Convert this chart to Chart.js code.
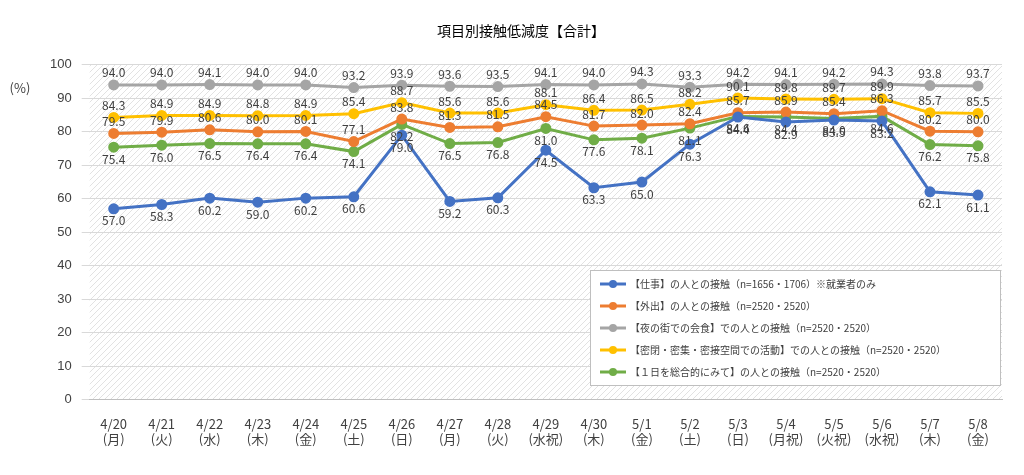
<!DOCTYPE html>
<html><head><meta charset="utf-8">
<script src="https://cdn.jsdelivr.net/npm/chart.js@4/dist/chart.umd.min.js"></script>
<style>
html,body{margin:0;padding:0;background:#fff}
#wrap{width:1024px;height:475px;position:relative}
</style></head>
<body><div id="wrap"><canvas id="canvas"></canvas></div>
<script>
var dates = ['4/20','4/21','4/22','4/23','4/24','4/25','4/26','4/27','4/28','4/29','4/30','5/1','5/2','5/3','5/4','5/5','5/6','5/7','5/8']
var days = ['(月)','(火)','(水)','(木)','(金)','(土)','(日)','(月)','(火)','(水祝)','(木)','(金)','(土)','(日)','(月祝)','(火祝)','(水祝)','(木)','(金)']
var yTicks = [0,10,20,30,40,50,60,70,80,90,100]

var shigoto = [57.0,58.3,60.2,59.0,60.2,60.6,79.0,59.2,60.3,74.5,63.3,65.0,76.3,84.4,82.9,83.5,83.2,62.1,61.1]
var gaishutsu = [79.5,79.9,80.6,80.0,80.1,77.1,83.8,81.3,81.5,84.5,81.7,82.0,82.4,85.7,85.9,85.4,86.3,80.2,80.0]
var yorunomachi = [94.0,94.0,94.1,94.0,94.0,93.2,93.9,93.6,93.5,94.1,94.0,94.3,93.3,94.2,94.1,94.2,94.3,93.8,93.7]
var mippei = [84.3,84.9,84.9,84.8,84.9,85.4,88.7,85.6,85.6,88.1,86.4,86.5,88.2,90.1,89.8,89.7,89.9,85.7,85.5]
var ichinichi = [75.4,76.0,76.5,76.4,76.4,74.1,82.2,76.5,76.8,81.0,77.6,78.1,81.1,84.6,84.4,84.0,84.6,76.2,75.8]

var names = ['【仕事】の人との接触（n=1656・1706）※就業者のみ','【外出】の人との接触（n=2520・2520）','【夜の街での会食】での人との接触（n=2520・2520）','【密閉・密集・密接空間での活動】での人との接触（n=2520・2520）','【１日を総合的にみて】の人との接触（n=2520・2520）']
var colors = ['#4472C4','#ED7D31','#A5A5A5','#FFC000','#70AD47']
var series = [shigoto,gaishutsu,yorunomachi,mippei,ichinichi]
var labelPos = [1,-1,-1,-1,1] // 1 below, -1 above

function hatch(){
    var c = document.createElement('canvas'); c.width=6; c.height=6
    var g = c.getContext('2d')
    g.fillStyle='#fff'; g.fillRect(0,0,6,6)
    g.strokeStyle='#e2e2e2'; g.lineWidth=1
    g.beginPath(); g.moveTo(0,6); g.lineTo(6,0); g.stroke()
    return document.getElementById('canvas').getContext('2d').createPattern(c,'repeat')
}

var extras = {
    id:'extras',
    beforeDraw:function(chart){
        var a = chart.chartArea, ctx = chart.ctx
        ctx.save(); ctx.fillStyle = hatch(); ctx.fillRect(a.left,a.top,a.right-a.left,a.bottom-a.top); ctx.restore()
    },
    afterDatasetsDraw:function(chart){
        var ctx = chart.ctx
        ctx.save()
        ctx.font = '12px "Noto Sans CJK JP", sans-serif'
        ctx.fillStyle = '#404040'; ctx.textAlign='center'; ctx.textBaseline='middle'
        chart.data.datasets.forEach(function(ds,i){
            chart.getDatasetMeta(i).data.forEach(function(p,j){
                ctx.fillText(ds.data[j].toFixed(1), p.x, p.y + labelPos[i]*12)
            })
        })
        ctx.font = '13px "Noto Sans CJK JP", sans-serif'
        ctx.fillText('(%)', 20, 88)
        // legend box
        var lx=590, ly=270, lw=410, lh=115
        ctx.fillStyle='#fff'; ctx.fillRect(lx,ly,lw,lh)
        ctx.strokeStyle='#bfbfbf'; ctx.lineWidth=1; ctx.strokeRect(lx+0.5,ly+0.5,lw,lh)
        ctx.textAlign='left'; ctx.font='10px "Noto Sans CJK JP", sans-serif'
        names.forEach(function(n,i){
            var y = ly+14+i*22
            ctx.strokeStyle=colors[i]; ctx.lineWidth=3
            ctx.beginPath(); ctx.moveTo(lx+10,y); ctx.lineTo(lx+36,y); ctx.stroke()
            ctx.fillStyle=colors[i]; ctx.beginPath(); ctx.arc(lx+23,y,4,0,Math.PI*2); ctx.fill()
            ctx.fillStyle='#404040'; ctx.fillText(n, lx+40, y)
        })
        ctx.restore()
    }
}

var ctx = document.getElementById('canvas').getContext('2d')
var config = {
    type:'line',
    data:{
        labels: dates.map(function(d,i){ return [d, days[i]] }),
        datasets: series.map(function(s,i){
            return {label:names[i], data:s, borderColor:colors[i], backgroundColor:colors[i],
                borderWidth:3, pointRadius:4, pointHoverRadius:4, fill:false, order:i==0?-1:0}
        })
    },
    options:{
        responsive:false, animation:false,
        layout:{padding:{left:40,right:22,top:0,bottom:20}},
        plugins:{
            legend:{display:false}, tooltip:{enabled:false},
            title:{display:true, text:'項目別接触低減度【合計】', color:'#000', padding:{top:22,bottom:26},
                font:{size:14, family:'"Noto Sans CJK JP", sans-serif', weight:'normal'}}
        },
        scales:{
            x:{offset:true, grid:{display:false}, border:{color:'#bfbfbf'},
                ticks:{color:'#404040', padding:8, font:{size:13, family:'"Noto Sans CJK JP", sans-serif'}, maxRotation:0, autoSkip:false}},
            y:{min:0, max:100, afterBuildTicks:function(ax){ ax.ticks = yTicks.map(function(v){return {value:v}}) },
                grid:{color:'#d9d9d9'}, border:{display:false},
                ticks:{color:'#404040', font:{size:13}, padding:10}}
        }
    },
    plugins:[extras]
}
var c = document.getElementById('canvas'); c.width=1024; c.height=475
var mychart = new Chart(ctx, config)
</script></body></html>
